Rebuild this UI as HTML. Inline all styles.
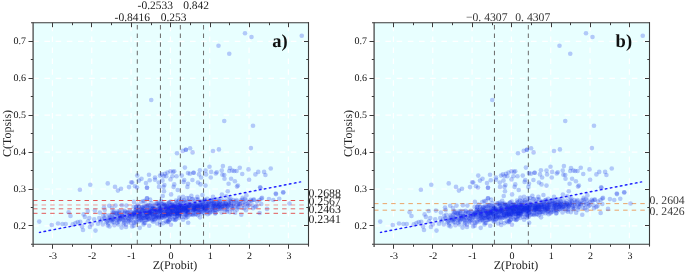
<!DOCTYPE html>
<html><head><meta charset="utf-8"><style>
html,body{margin:0;padding:0;background:#fff;}
svg{display:block;font-family:"Liberation Serif",serif;will-change:transform;text-rendering:geometricPrecision;}
</style></head><body>
<svg width="685" height="272" viewBox="0 0 685 272" xmlns="http://www.w3.org/2000/svg">
<defs><g id="ptsA" fill="rgba(10,40,230,0.25)"><circle cx="245.00" cy="33.25" r="2.3"/><circle cx="301.75" cy="35.75" r="2.3"/><circle cx="151.25" cy="100.00" r="2.3"/><circle cx="253.00" cy="125.75" r="2.3"/><circle cx="182.75" cy="150.90" r="2.3"/><circle cx="190.10" cy="148.30" r="2.3"/><circle cx="192.60" cy="152.40" r="2.3"/><circle cx="250.90" cy="148.10" r="2.3"/><circle cx="184.90" cy="167.60" r="2.3"/><circle cx="209.50" cy="166.70" r="2.3"/><circle cx="222.90" cy="166.10" r="2.3"/><circle cx="230.00" cy="168.00" r="2.3"/><circle cx="248.50" cy="169.40" r="2.3"/><circle cx="170.50" cy="179.40" r="2.3"/><circle cx="176.50" cy="176.25" r="2.3"/><circle cx="174.25" cy="184.40" r="2.3"/><circle cx="173.60" cy="186.90" r="2.3"/><circle cx="177.75" cy="190.00" r="2.3"/><circle cx="183.60" cy="181.90" r="2.3"/><circle cx="188.00" cy="173.10" r="2.3"/><circle cx="193.60" cy="172.75" r="2.3"/><circle cx="193.60" cy="172.75" r="2.3"/><circle cx="188.00" cy="183.75" r="2.3"/><circle cx="187.40" cy="186.90" r="2.3"/><circle cx="199.90" cy="170.25" r="2.3"/><circle cx="199.00" cy="174.40" r="2.3"/><circle cx="201.10" cy="177.50" r="2.3"/><circle cx="200.50" cy="184.40" r="2.3"/><circle cx="197.40" cy="196.90" r="2.3"/><circle cx="206.10" cy="174.40" r="2.3"/><circle cx="205.50" cy="185.60" r="2.3"/><circle cx="210.75" cy="177.50" r="2.3"/><circle cx="216.75" cy="172.25" r="2.3"/><circle cx="221.75" cy="170.60" r="2.3"/><circle cx="222.40" cy="174.75" r="2.3"/><circle cx="224.25" cy="175.00" r="2.3"/><circle cx="228.60" cy="183.75" r="2.3"/><circle cx="227.75" cy="191.25" r="2.3"/><circle cx="229.25" cy="171.00" r="2.3"/><circle cx="231.10" cy="178.75" r="2.3"/><circle cx="232.40" cy="170.60" r="2.3"/><circle cx="234.25" cy="171.00" r="2.3"/><circle cx="234.90" cy="181.25" r="2.3"/><circle cx="213.00" cy="196.90" r="2.3"/><circle cx="236.60" cy="171.00" r="2.3"/><circle cx="242.25" cy="174.00" r="2.3"/><circle cx="249.10" cy="179.75" r="2.3"/><circle cx="237.90" cy="185.60" r="2.3"/><circle cx="258.25" cy="171.90" r="2.3"/><circle cx="264.10" cy="171.90" r="2.3"/><circle cx="260.40" cy="187.75" r="2.3"/><circle cx="115.00" cy="186.90" r="2.3"/><circle cx="129.00" cy="187.10" r="2.3"/><circle cx="131.25" cy="182.25" r="2.3"/><circle cx="135.00" cy="186.25" r="2.3"/><circle cx="137.00" cy="187.50" r="2.3"/><circle cx="137.25" cy="175.60" r="2.3"/><circle cx="139.00" cy="180.60" r="2.3"/><circle cx="141.50" cy="178.75" r="2.3"/><circle cx="147.00" cy="187.75" r="2.3"/><circle cx="147.00" cy="187.75" r="2.3"/><circle cx="149.00" cy="174.75" r="2.3"/><circle cx="149.75" cy="180.25" r="2.3"/><circle cx="160.00" cy="175.60" r="2.3"/><circle cx="161.90" cy="174.40" r="2.3"/><circle cx="165.00" cy="173.75" r="2.3"/><circle cx="166.25" cy="176.25" r="2.3"/><circle cx="167.50" cy="172.50" r="2.3"/><circle cx="164.40" cy="185.00" r="2.3"/><circle cx="163.50" cy="186.90" r="2.3"/><circle cx="164.00" cy="191.25" r="2.3"/><circle cx="162.75" cy="196.00" r="2.3"/><circle cx="147.00" cy="198.30" r="2.3"/><circle cx="143.25" cy="201.00" r="2.3"/><circle cx="133.90" cy="201.90" r="2.3"/><circle cx="115.50" cy="205.60" r="2.3"/><circle cx="104.00" cy="207.50" r="2.3"/><circle cx="112.00" cy="208.00" r="2.3"/><circle cx="79.90" cy="189.75" r="2.3"/><circle cx="39.25" cy="221.60" r="2.3"/><circle cx="80.25" cy="221.90" r="2.3"/><circle cx="83.00" cy="230.00" r="2.3"/><circle cx="83.60" cy="214.40" r="2.3"/><circle cx="89.25" cy="218.10" r="2.3"/><circle cx="91.75" cy="224.40" r="2.3"/><circle cx="94.25" cy="219.40" r="2.3"/><circle cx="94.90" cy="210.60" r="2.3"/><circle cx="95.50" cy="230.60" r="2.3"/><circle cx="237.00" cy="186.60" r="2.3"/><circle cx="283.25" cy="192.50" r="2.3"/><circle cx="268.90" cy="199.10" r="2.3"/><circle cx="279.25" cy="198.75" r="2.3"/><circle cx="267.00" cy="208.90" r="2.3"/><circle cx="262.00" cy="197.90" r="2.3"/><circle cx="261.40" cy="198.50" r="2.3"/><circle cx="259.50" cy="200.00" r="2.3"/><circle cx="246.40" cy="195.40" r="2.3"/><circle cx="109.50" cy="226.40" r="2.3"/><circle cx="121.60" cy="227.60" r="2.3"/><circle cx="126.00" cy="227.00" r="2.3"/><circle cx="102.79" cy="224.56" r="2.3"/><circle cx="103.23" cy="215.78" r="2.3"/><circle cx="104.29" cy="218.10" r="2.3"/><circle cx="104.71" cy="210.06" r="2.3"/><circle cx="105.33" cy="219.36" r="2.3"/><circle cx="105.33" cy="214.83" r="2.3"/><circle cx="107.42" cy="221.29" r="2.3"/><circle cx="107.75" cy="225.55" r="2.3"/><circle cx="109.35" cy="215.19" r="2.3"/><circle cx="110.03" cy="220.22" r="2.3"/><circle cx="110.28" cy="216.48" r="2.3"/><circle cx="111.17" cy="219.05" r="2.3"/><circle cx="111.65" cy="220.54" r="2.3"/><circle cx="112.10" cy="214.80" r="2.3"/><circle cx="112.23" cy="222.25" r="2.3"/><circle cx="113.44" cy="218.51" r="2.3"/><circle cx="113.79" cy="222.34" r="2.3"/><circle cx="114.09" cy="211.34" r="2.3"/><circle cx="114.40" cy="225.27" r="2.3"/><circle cx="114.50" cy="215.33" r="2.3"/><circle cx="115.23" cy="218.49" r="2.3"/><circle cx="116.70" cy="220.35" r="2.3"/><circle cx="116.54" cy="214.54" r="2.3"/><circle cx="117.09" cy="213.37" r="2.3"/><circle cx="117.13" cy="222.84" r="2.3"/><circle cx="117.74" cy="211.55" r="2.3"/><circle cx="118.51" cy="216.03" r="2.3"/><circle cx="118.45" cy="224.49" r="2.3"/><circle cx="118.73" cy="221.58" r="2.3"/><circle cx="119.45" cy="214.64" r="2.3"/><circle cx="119.59" cy="210.99" r="2.3"/><circle cx="119.38" cy="212.85" r="2.3"/><circle cx="119.91" cy="217.38" r="2.3"/><circle cx="121.25" cy="219.13" r="2.3"/><circle cx="121.87" cy="205.24" r="2.3"/><circle cx="122.37" cy="214.86" r="2.3"/><circle cx="122.32" cy="211.28" r="2.3"/><circle cx="122.93" cy="216.27" r="2.3"/><circle cx="122.94" cy="219.81" r="2.3"/><circle cx="123.38" cy="224.16" r="2.3"/><circle cx="124.14" cy="213.67" r="2.3"/><circle cx="123.91" cy="222.81" r="2.3"/><circle cx="124.58" cy="210.80" r="2.3"/><circle cx="125.24" cy="217.93" r="2.3"/><circle cx="125.51" cy="220.09" r="2.3"/><circle cx="125.38" cy="211.80" r="2.3"/><circle cx="125.99" cy="224.63" r="2.3"/><circle cx="127.42" cy="220.75" r="2.3"/><circle cx="128.18" cy="222.11" r="2.3"/><circle cx="128.93" cy="215.89" r="2.3"/><circle cx="128.93" cy="218.28" r="2.3"/><circle cx="129.45" cy="220.51" r="2.3"/><circle cx="129.84" cy="215.03" r="2.3"/><circle cx="129.83" cy="210.79" r="2.3"/><circle cx="130.15" cy="216.31" r="2.3"/><circle cx="130.65" cy="219.05" r="2.3"/><circle cx="130.80" cy="223.01" r="2.3"/><circle cx="131.49" cy="211.68" r="2.3"/><circle cx="131.58" cy="220.10" r="2.3"/><circle cx="132.19" cy="215.34" r="2.3"/><circle cx="132.68" cy="215.13" r="2.3"/><circle cx="133.24" cy="213.85" r="2.3"/><circle cx="133.75" cy="225.78" r="2.3"/><circle cx="133.61" cy="206.92" r="2.3"/><circle cx="133.99" cy="214.67" r="2.3"/><circle cx="134.34" cy="218.72" r="2.3"/><circle cx="134.41" cy="212.45" r="2.3"/><circle cx="134.85" cy="216.66" r="2.3"/><circle cx="135.02" cy="214.50" r="2.3"/><circle cx="135.88" cy="207.23" r="2.3"/><circle cx="136.02" cy="209.63" r="2.3"/><circle cx="136.12" cy="221.76" r="2.3"/><circle cx="136.18" cy="211.77" r="2.3"/><circle cx="136.28" cy="209.81" r="2.3"/><circle cx="136.40" cy="206.90" r="2.3"/><circle cx="136.93" cy="216.68" r="2.3"/><circle cx="137.03" cy="212.91" r="2.3"/><circle cx="137.10" cy="214.70" r="2.3"/><circle cx="137.50" cy="211.10" r="2.3"/><circle cx="137.58" cy="219.55" r="2.3"/><circle cx="137.45" cy="204.49" r="2.3"/><circle cx="138.21" cy="216.35" r="2.3"/><circle cx="138.39" cy="219.61" r="2.3"/><circle cx="138.75" cy="212.34" r="2.3"/><circle cx="138.78" cy="213.20" r="2.3"/><circle cx="138.71" cy="221.42" r="2.3"/><circle cx="138.86" cy="207.00" r="2.3"/><circle cx="139.48" cy="215.55" r="2.3"/><circle cx="139.70" cy="227.86" r="2.3"/><circle cx="140.59" cy="213.88" r="2.3"/><circle cx="140.23" cy="214.09" r="2.3"/><circle cx="140.60" cy="208.99" r="2.3"/><circle cx="140.79" cy="219.84" r="2.3"/><circle cx="141.23" cy="202.07" r="2.3"/><circle cx="141.48" cy="216.56" r="2.3"/><circle cx="141.62" cy="214.42" r="2.3"/><circle cx="142.12" cy="219.82" r="2.3"/><circle cx="141.98" cy="207.65" r="2.3"/><circle cx="142.13" cy="210.36" r="2.3"/><circle cx="142.51" cy="212.70" r="2.3"/><circle cx="142.49" cy="221.23" r="2.3"/><circle cx="142.66" cy="206.96" r="2.3"/><circle cx="143.36" cy="217.68" r="2.3"/><circle cx="143.99" cy="222.98" r="2.3"/><circle cx="144.48" cy="207.67" r="2.3"/><circle cx="144.32" cy="205.64" r="2.3"/><circle cx="145.15" cy="222.88" r="2.3"/><circle cx="144.77" cy="201.25" r="2.3"/><circle cx="145.32" cy="212.07" r="2.3"/><circle cx="145.56" cy="215.16" r="2.3"/><circle cx="145.59" cy="213.10" r="2.3"/><circle cx="146.33" cy="213.32" r="2.3"/><circle cx="146.74" cy="214.25" r="2.3"/><circle cx="146.98" cy="219.96" r="2.3"/><circle cx="146.94" cy="212.72" r="2.3"/><circle cx="147.61" cy="213.90" r="2.3"/><circle cx="147.61" cy="216.43" r="2.3"/><circle cx="147.66" cy="217.16" r="2.3"/><circle cx="147.92" cy="208.91" r="2.3"/><circle cx="148.47" cy="212.77" r="2.3"/><circle cx="148.37" cy="204.85" r="2.3"/><circle cx="148.98" cy="210.09" r="2.3"/><circle cx="149.19" cy="225.82" r="2.3"/><circle cx="149.40" cy="211.52" r="2.3"/><circle cx="149.30" cy="219.10" r="2.3"/><circle cx="149.88" cy="216.29" r="2.3"/><circle cx="150.09" cy="199.66" r="2.3"/><circle cx="150.15" cy="210.62" r="2.3"/><circle cx="150.46" cy="211.84" r="2.3"/><circle cx="151.90" cy="220.44" r="2.3"/><circle cx="152.17" cy="208.76" r="2.3"/><circle cx="152.95" cy="216.65" r="2.3"/><circle cx="152.83" cy="208.96" r="2.3"/><circle cx="153.26" cy="221.81" r="2.3"/><circle cx="153.20" cy="214.49" r="2.3"/><circle cx="154.09" cy="209.62" r="2.3"/><circle cx="154.15" cy="213.17" r="2.3"/><circle cx="154.07" cy="208.01" r="2.3"/><circle cx="154.27" cy="220.27" r="2.3"/><circle cx="154.32" cy="216.80" r="2.3"/><circle cx="154.69" cy="209.50" r="2.3"/><circle cx="154.59" cy="205.32" r="2.3"/><circle cx="154.77" cy="219.29" r="2.3"/><circle cx="155.53" cy="215.39" r="2.3"/><circle cx="155.49" cy="209.29" r="2.3"/><circle cx="155.22" cy="208.61" r="2.3"/><circle cx="155.76" cy="211.88" r="2.3"/><circle cx="156.37" cy="218.87" r="2.3"/><circle cx="157.17" cy="203.42" r="2.3"/><circle cx="157.17" cy="223.45" r="2.3"/><circle cx="157.32" cy="216.59" r="2.3"/><circle cx="157.85" cy="211.72" r="2.3"/><circle cx="158.62" cy="202.67" r="2.3"/><circle cx="158.77" cy="216.88" r="2.3"/><circle cx="158.77" cy="204.28" r="2.3"/><circle cx="158.79" cy="211.92" r="2.3"/><circle cx="159.46" cy="211.06" r="2.3"/><circle cx="159.12" cy="209.46" r="2.3"/><circle cx="160.07" cy="207.86" r="2.3"/><circle cx="159.99" cy="221.92" r="2.3"/><circle cx="160.34" cy="214.29" r="2.3"/><circle cx="160.20" cy="211.32" r="2.3"/><circle cx="160.54" cy="212.47" r="2.3"/><circle cx="161.17" cy="218.06" r="2.3"/><circle cx="161.52" cy="210.89" r="2.3"/><circle cx="161.53" cy="209.36" r="2.3"/><circle cx="161.43" cy="203.46" r="2.3"/><circle cx="161.58" cy="212.90" r="2.3"/><circle cx="162.16" cy="211.81" r="2.3"/><circle cx="162.23" cy="217.50" r="2.3"/><circle cx="162.69" cy="204.24" r="2.3"/><circle cx="163.21" cy="217.57" r="2.3"/><circle cx="163.32" cy="214.79" r="2.3"/><circle cx="163.23" cy="213.05" r="2.3"/><circle cx="163.33" cy="203.67" r="2.3"/><circle cx="163.40" cy="214.60" r="2.3"/><circle cx="163.44" cy="223.09" r="2.3"/><circle cx="164.21" cy="205.01" r="2.3"/><circle cx="164.81" cy="204.75" r="2.3"/><circle cx="164.38" cy="211.05" r="2.3"/><circle cx="164.95" cy="209.01" r="2.3"/><circle cx="164.84" cy="211.91" r="2.3"/><circle cx="164.90" cy="216.24" r="2.3"/><circle cx="165.30" cy="213.75" r="2.3"/><circle cx="165.21" cy="206.60" r="2.3"/><circle cx="165.53" cy="208.37" r="2.3"/><circle cx="165.68" cy="214.30" r="2.3"/><circle cx="166.23" cy="212.46" r="2.3"/><circle cx="166.27" cy="204.90" r="2.3"/><circle cx="166.12" cy="208.48" r="2.3"/><circle cx="166.73" cy="210.12" r="2.3"/><circle cx="166.70" cy="212.91" r="2.3"/><circle cx="166.98" cy="222.17" r="2.3"/><circle cx="167.15" cy="206.32" r="2.3"/><circle cx="167.09" cy="212.19" r="2.3"/><circle cx="167.52" cy="207.79" r="2.3"/><circle cx="167.66" cy="213.68" r="2.3"/><circle cx="167.33" cy="217.67" r="2.3"/><circle cx="167.85" cy="213.96" r="2.3"/><circle cx="167.86" cy="209.52" r="2.3"/><circle cx="168.39" cy="221.42" r="2.3"/><circle cx="168.65" cy="215.80" r="2.3"/><circle cx="168.74" cy="210.85" r="2.3"/><circle cx="168.90" cy="206.93" r="2.3"/><circle cx="168.98" cy="202.84" r="2.3"/><circle cx="169.34" cy="202.20" r="2.3"/><circle cx="169.02" cy="209.13" r="2.3"/><circle cx="169.58" cy="219.63" r="2.3"/><circle cx="169.40" cy="216.68" r="2.3"/><circle cx="169.47" cy="207.43" r="2.3"/><circle cx="170.35" cy="214.77" r="2.3"/><circle cx="170.07" cy="210.08" r="2.3"/><circle cx="171.14" cy="210.44" r="2.3"/><circle cx="170.78" cy="201.49" r="2.3"/><circle cx="171.05" cy="207.59" r="2.3"/><circle cx="171.55" cy="205.14" r="2.3"/><circle cx="171.46" cy="214.35" r="2.3"/><circle cx="171.56" cy="212.73" r="2.3"/><circle cx="171.76" cy="204.55" r="2.3"/><circle cx="172.01" cy="216.63" r="2.3"/><circle cx="171.83" cy="208.71" r="2.3"/><circle cx="172.42" cy="207.04" r="2.3"/><circle cx="172.13" cy="207.67" r="2.3"/><circle cx="172.56" cy="205.03" r="2.3"/><circle cx="172.94" cy="211.82" r="2.3"/><circle cx="172.96" cy="219.00" r="2.3"/><circle cx="173.55" cy="205.99" r="2.3"/><circle cx="174.03" cy="207.49" r="2.3"/><circle cx="173.71" cy="207.61" r="2.3"/><circle cx="174.11" cy="211.63" r="2.3"/><circle cx="174.41" cy="219.74" r="2.3"/><circle cx="174.82" cy="213.85" r="2.3"/><circle cx="174.88" cy="213.69" r="2.3"/><circle cx="174.87" cy="203.88" r="2.3"/><circle cx="175.38" cy="206.13" r="2.3"/><circle cx="175.31" cy="214.76" r="2.3"/><circle cx="175.42" cy="219.96" r="2.3"/><circle cx="176.38" cy="206.64" r="2.3"/><circle cx="176.55" cy="202.66" r="2.3"/><circle cx="176.28" cy="219.12" r="2.3"/><circle cx="176.88" cy="210.09" r="2.3"/><circle cx="176.98" cy="213.05" r="2.3"/><circle cx="176.64" cy="215.85" r="2.3"/><circle cx="177.22" cy="207.41" r="2.3"/><circle cx="177.04" cy="212.74" r="2.3"/><circle cx="177.04" cy="216.64" r="2.3"/><circle cx="177.50" cy="201.68" r="2.3"/><circle cx="177.71" cy="204.87" r="2.3"/><circle cx="177.43" cy="213.71" r="2.3"/><circle cx="178.28" cy="206.90" r="2.3"/><circle cx="178.44" cy="205.23" r="2.3"/><circle cx="178.68" cy="210.77" r="2.3"/><circle cx="179.01" cy="213.14" r="2.3"/><circle cx="179.08" cy="200.58" r="2.3"/><circle cx="179.21" cy="217.88" r="2.3"/><circle cx="179.50" cy="214.58" r="2.3"/><circle cx="179.51" cy="204.88" r="2.3"/><circle cx="179.70" cy="213.11" r="2.3"/><circle cx="179.36" cy="197.63" r="2.3"/><circle cx="179.51" cy="209.08" r="2.3"/><circle cx="180.19" cy="204.36" r="2.3"/><circle cx="180.17" cy="211.26" r="2.3"/><circle cx="180.25" cy="213.77" r="2.3"/><circle cx="180.18" cy="205.27" r="2.3"/><circle cx="180.17" cy="210.64" r="2.3"/><circle cx="181.00" cy="211.79" r="2.3"/><circle cx="181.26" cy="214.16" r="2.3"/><circle cx="181.31" cy="206.80" r="2.3"/><circle cx="182.01" cy="210.66" r="2.3"/><circle cx="182.13" cy="206.56" r="2.3"/><circle cx="182.49" cy="212.04" r="2.3"/><circle cx="182.60" cy="206.18" r="2.3"/><circle cx="183.52" cy="201.34" r="2.3"/><circle cx="183.27" cy="209.64" r="2.3"/><circle cx="183.72" cy="207.45" r="2.3"/><circle cx="183.88" cy="205.47" r="2.3"/><circle cx="183.87" cy="200.14" r="2.3"/><circle cx="185.04" cy="211.07" r="2.3"/><circle cx="185.33" cy="208.71" r="2.3"/><circle cx="185.46" cy="205.80" r="2.3"/><circle cx="185.82" cy="212.50" r="2.3"/><circle cx="185.96" cy="210.62" r="2.3"/><circle cx="185.55" cy="214.64" r="2.3"/><circle cx="185.94" cy="206.98" r="2.3"/><circle cx="186.34" cy="215.13" r="2.3"/><circle cx="186.62" cy="210.43" r="2.3"/><circle cx="186.77" cy="207.68" r="2.3"/><circle cx="186.63" cy="205.51" r="2.3"/><circle cx="187.57" cy="207.22" r="2.3"/><circle cx="187.68" cy="216.79" r="2.3"/><circle cx="187.81" cy="209.12" r="2.3"/><circle cx="187.66" cy="209.99" r="2.3"/><circle cx="187.63" cy="205.47" r="2.3"/><circle cx="188.29" cy="209.43" r="2.3"/><circle cx="188.30" cy="212.30" r="2.3"/><circle cx="188.13" cy="212.78" r="2.3"/><circle cx="188.42" cy="204.80" r="2.3"/><circle cx="188.74" cy="208.64" r="2.3"/><circle cx="188.61" cy="212.49" r="2.3"/><circle cx="189.08" cy="206.47" r="2.3"/><circle cx="189.09" cy="198.09" r="2.3"/><circle cx="189.09" cy="205.60" r="2.3"/><circle cx="190.39" cy="203.00" r="2.3"/><circle cx="190.40" cy="205.89" r="2.3"/><circle cx="190.78" cy="213.90" r="2.3"/><circle cx="190.60" cy="207.92" r="2.3"/><circle cx="191.08" cy="209.70" r="2.3"/><circle cx="191.36" cy="195.82" r="2.3"/><circle cx="191.66" cy="205.06" r="2.3"/><circle cx="191.81" cy="214.55" r="2.3"/><circle cx="192.06" cy="206.37" r="2.3"/><circle cx="192.39" cy="205.95" r="2.3"/><circle cx="192.85" cy="199.00" r="2.3"/><circle cx="193.60" cy="207.75" r="2.3"/><circle cx="193.68" cy="202.98" r="2.3"/><circle cx="194.18" cy="209.35" r="2.3"/><circle cx="194.16" cy="205.17" r="2.3"/><circle cx="194.23" cy="208.47" r="2.3"/><circle cx="194.28" cy="208.87" r="2.3"/><circle cx="195.45" cy="206.54" r="2.3"/><circle cx="195.02" cy="202.04" r="2.3"/><circle cx="195.38" cy="208.14" r="2.3"/><circle cx="195.58" cy="204.99" r="2.3"/><circle cx="195.41" cy="210.07" r="2.3"/><circle cx="196.23" cy="214.35" r="2.3"/><circle cx="196.49" cy="199.37" r="2.3"/><circle cx="196.58" cy="206.80" r="2.3"/><circle cx="197.26" cy="208.72" r="2.3"/><circle cx="197.52" cy="212.05" r="2.3"/><circle cx="197.82" cy="215.09" r="2.3"/><circle cx="197.46" cy="206.91" r="2.3"/><circle cx="198.51" cy="208.41" r="2.3"/><circle cx="198.32" cy="207.87" r="2.3"/><circle cx="198.51" cy="205.50" r="2.3"/><circle cx="198.84" cy="212.90" r="2.3"/><circle cx="199.14" cy="207.04" r="2.3"/><circle cx="199.97" cy="205.11" r="2.3"/><circle cx="200.04" cy="217.36" r="2.3"/><circle cx="200.57" cy="212.07" r="2.3"/><circle cx="201.07" cy="204.98" r="2.3"/><circle cx="200.91" cy="208.02" r="2.3"/><circle cx="201.87" cy="211.82" r="2.3"/><circle cx="202.06" cy="201.90" r="2.3"/><circle cx="202.12" cy="206.97" r="2.3"/><circle cx="202.82" cy="203.98" r="2.3"/><circle cx="203.35" cy="208.72" r="2.3"/><circle cx="204.08" cy="209.68" r="2.3"/><circle cx="203.85" cy="204.20" r="2.3"/><circle cx="204.07" cy="208.44" r="2.3"/><circle cx="204.18" cy="200.37" r="2.3"/><circle cx="204.47" cy="213.18" r="2.3"/><circle cx="204.80" cy="210.67" r="2.3"/><circle cx="205.35" cy="204.16" r="2.3"/><circle cx="205.76" cy="206.38" r="2.3"/><circle cx="206.04" cy="208.37" r="2.3"/><circle cx="206.17" cy="212.28" r="2.3"/><circle cx="206.07" cy="201.48" r="2.3"/><circle cx="207.45" cy="207.67" r="2.3"/><circle cx="207.61" cy="214.25" r="2.3"/><circle cx="207.76" cy="206.60" r="2.3"/><circle cx="208.26" cy="204.66" r="2.3"/><circle cx="208.10" cy="201.92" r="2.3"/><circle cx="208.37" cy="209.58" r="2.3"/><circle cx="208.58" cy="206.44" r="2.3"/><circle cx="209.39" cy="213.37" r="2.3"/><circle cx="209.06" cy="202.43" r="2.3"/><circle cx="209.72" cy="207.69" r="2.3"/><circle cx="209.72" cy="210.17" r="2.3"/><circle cx="210.50" cy="200.93" r="2.3"/><circle cx="211.26" cy="200.08" r="2.3"/><circle cx="211.35" cy="211.85" r="2.3"/><circle cx="211.81" cy="203.60" r="2.3"/><circle cx="212.53" cy="210.07" r="2.3"/><circle cx="213.12" cy="211.02" r="2.3"/><circle cx="213.23" cy="207.01" r="2.3"/><circle cx="213.89" cy="203.67" r="2.3"/><circle cx="213.91" cy="207.97" r="2.3"/><circle cx="214.18" cy="199.86" r="2.3"/><circle cx="215.35" cy="210.20" r="2.3"/><circle cx="215.31" cy="207.71" r="2.3"/><circle cx="215.74" cy="201.70" r="2.3"/><circle cx="215.54" cy="213.01" r="2.3"/><circle cx="216.81" cy="199.39" r="2.3"/><circle cx="216.47" cy="204.27" r="2.3"/><circle cx="216.95" cy="210.52" r="2.3"/><circle cx="217.41" cy="202.59" r="2.3"/><circle cx="217.58" cy="205.31" r="2.3"/><circle cx="218.14" cy="209.20" r="2.3"/><circle cx="218.19" cy="206.80" r="2.3"/><circle cx="218.80" cy="200.64" r="2.3"/><circle cx="218.91" cy="209.20" r="2.3"/><circle cx="219.05" cy="205.17" r="2.3"/><circle cx="219.26" cy="203.70" r="2.3"/><circle cx="219.68" cy="202.50" r="2.3"/><circle cx="220.15" cy="201.53" r="2.3"/><circle cx="220.57" cy="208.41" r="2.3"/><circle cx="221.25" cy="198.43" r="2.3"/><circle cx="222.48" cy="206.38" r="2.3"/><circle cx="222.49" cy="206.99" r="2.3"/><circle cx="223.18" cy="202.12" r="2.3"/><circle cx="223.40" cy="208.95" r="2.3"/><circle cx="224.82" cy="206.50" r="2.3"/><circle cx="225.23" cy="210.39" r="2.3"/><circle cx="225.24" cy="200.75" r="2.3"/><circle cx="226.18" cy="196.29" r="2.3"/><circle cx="226.44" cy="203.97" r="2.3"/><circle cx="226.74" cy="211.77" r="2.3"/><circle cx="226.59" cy="205.37" r="2.3"/><circle cx="227.23" cy="206.33" r="2.3"/><circle cx="227.17" cy="209.48" r="2.3"/><circle cx="227.86" cy="206.60" r="2.3"/><circle cx="228.72" cy="202.20" r="2.3"/><circle cx="228.75" cy="205.30" r="2.3"/><circle cx="229.00" cy="199.49" r="2.3"/><circle cx="230.93" cy="204.68" r="2.3"/><circle cx="231.37" cy="202.63" r="2.3"/><circle cx="232.21" cy="209.38" r="2.3"/><circle cx="232.11" cy="207.70" r="2.3"/><circle cx="233.23" cy="208.56" r="2.3"/><circle cx="233.70" cy="205.86" r="2.3"/><circle cx="234.09" cy="203.90" r="2.3"/><circle cx="234.49" cy="201.82" r="2.3"/><circle cx="236.07" cy="201.28" r="2.3"/><circle cx="236.24" cy="205.35" r="2.3"/><circle cx="236.58" cy="200.07" r="2.3"/><circle cx="237.02" cy="209.60" r="2.3"/><circle cx="239.72" cy="204.54" r="2.3"/><circle cx="239.74" cy="203.98" r="2.3"/><circle cx="240.59" cy="200.65" r="2.3"/><circle cx="241.28" cy="214.71" r="2.3"/><circle cx="242.09" cy="208.00" r="2.3"/><circle cx="242.27" cy="199.90" r="2.3"/><circle cx="243.33" cy="204.76" r="2.3"/><circle cx="244.00" cy="208.14" r="2.3"/><circle cx="245.23" cy="203.84" r="2.3"/><circle cx="245.93" cy="210.17" r="2.3"/><circle cx="247.36" cy="206.31" r="2.3"/><circle cx="250.77" cy="199.89" r="2.3"/><circle cx="251.54" cy="200.97" r="2.3"/><circle cx="255.35" cy="206.92" r="2.3"/><circle cx="261.29" cy="203.99" r="2.3"/></g><g id="ptsB" fill="rgba(10,40,230,0.25)"><circle cx="218.50" cy="45.75" r="2.3"/><circle cx="229.25" cy="53.75" r="2.3"/><circle cx="251.50" cy="37.00" r="2.3"/><circle cx="224.25" cy="121.00" r="2.3"/><circle cx="177.00" cy="153.20" r="2.3"/><circle cx="185.90" cy="149.75" r="2.3"/><circle cx="185.90" cy="149.75" r="2.3"/><circle cx="213.00" cy="151.00" r="2.3"/><circle cx="218.90" cy="149.40" r="2.3"/><circle cx="239.75" cy="167.75" r="2.3"/><circle cx="270.75" cy="168.50" r="2.3"/><circle cx="170.50" cy="171.25" r="2.3"/><circle cx="173.00" cy="171.90" r="2.3"/><circle cx="174.25" cy="171.25" r="2.3"/><circle cx="172.40" cy="176.25" r="2.3"/><circle cx="171.10" cy="194.40" r="2.3"/><circle cx="181.75" cy="175.60" r="2.3"/><circle cx="184.25" cy="180.00" r="2.3"/><circle cx="189.90" cy="173.75" r="2.3"/><circle cx="192.40" cy="180.00" r="2.3"/><circle cx="198.00" cy="182.50" r="2.3"/><circle cx="202.40" cy="195.00" r="2.3"/><circle cx="205.50" cy="170.60" r="2.3"/><circle cx="211.10" cy="171.90" r="2.3"/><circle cx="215.75" cy="173.50" r="2.3"/><circle cx="224.50" cy="178.75" r="2.3"/><circle cx="183.00" cy="196.90" r="2.3"/><circle cx="255.40" cy="174.40" r="2.3"/><circle cx="265.40" cy="175.00" r="2.3"/><circle cx="275.75" cy="193.50" r="2.3"/><circle cx="283.25" cy="192.25" r="2.3"/><circle cx="107.75" cy="183.40" r="2.3"/><circle cx="117.90" cy="190.60" r="2.3"/><circle cx="121.00" cy="188.75" r="2.3"/><circle cx="132.25" cy="182.50" r="2.3"/><circle cx="146.00" cy="183.10" r="2.3"/><circle cx="155.00" cy="177.50" r="2.3"/><circle cx="155.00" cy="179.75" r="2.3"/><circle cx="158.75" cy="182.50" r="2.3"/><circle cx="159.00" cy="186.90" r="2.3"/><circle cx="162.50" cy="180.60" r="2.3"/><circle cx="163.75" cy="176.25" r="2.3"/><circle cx="147.00" cy="198.30" r="2.3"/><circle cx="90.25" cy="184.75" r="2.3"/><circle cx="51.75" cy="225.00" r="2.3"/><circle cx="58.00" cy="223.50" r="2.3"/><circle cx="62.40" cy="224.00" r="2.3"/><circle cx="65.75" cy="224.00" r="2.3"/><circle cx="68.60" cy="212.25" r="2.3"/><circle cx="70.50" cy="216.00" r="2.3"/><circle cx="72.75" cy="224.40" r="2.3"/><circle cx="75.50" cy="223.10" r="2.3"/><circle cx="77.75" cy="222.10" r="2.3"/><circle cx="82.00" cy="226.50" r="2.3"/><circle cx="84.90" cy="216.90" r="2.3"/><circle cx="87.75" cy="211.00" r="2.3"/><circle cx="88.00" cy="221.25" r="2.3"/><circle cx="89.90" cy="226.90" r="2.3"/><circle cx="98.00" cy="223.75" r="2.3"/><circle cx="99.25" cy="218.10" r="2.3"/><circle cx="99.90" cy="212.50" r="2.3"/><circle cx="100.50" cy="221.25" r="2.3"/><circle cx="260.10" cy="187.25" r="2.3"/><circle cx="276.00" cy="194.10" r="2.3"/><circle cx="273.25" cy="200.00" r="2.3"/><circle cx="289.50" cy="203.50" r="2.3"/><circle cx="253.25" cy="199.75" r="2.3"/><circle cx="242.60" cy="197.90" r="2.3"/><circle cx="143.50" cy="224.50" r="2.3"/><circle cx="101.97" cy="219.44" r="2.3"/><circle cx="106.41" cy="222.22" r="2.3"/><circle cx="107.99" cy="223.30" r="2.3"/><circle cx="108.58" cy="219.22" r="2.3"/><circle cx="108.74" cy="217.81" r="2.3"/><circle cx="109.21" cy="205.68" r="2.3"/><circle cx="112.56" cy="211.85" r="2.3"/><circle cx="112.54" cy="217.84" r="2.3"/><circle cx="113.23" cy="219.62" r="2.3"/><circle cx="113.44" cy="213.10" r="2.3"/><circle cx="115.77" cy="213.24" r="2.3"/><circle cx="117.85" cy="218.47" r="2.3"/><circle cx="118.77" cy="220.00" r="2.3"/><circle cx="120.11" cy="215.97" r="2.3"/><circle cx="120.10" cy="219.11" r="2.3"/><circle cx="121.37" cy="217.47" r="2.3"/><circle cx="122.23" cy="215.93" r="2.3"/><circle cx="123.78" cy="216.59" r="2.3"/><circle cx="123.66" cy="220.49" r="2.3"/><circle cx="126.37" cy="205.62" r="2.3"/><circle cx="126.93" cy="213.13" r="2.3"/><circle cx="126.84" cy="216.37" r="2.3"/><circle cx="127.45" cy="212.18" r="2.3"/><circle cx="127.67" cy="217.83" r="2.3"/><circle cx="128.52" cy="212.57" r="2.3"/><circle cx="132.00" cy="214.13" r="2.3"/><circle cx="132.19" cy="226.55" r="2.3"/><circle cx="132.44" cy="216.95" r="2.3"/><circle cx="133.17" cy="212.94" r="2.3"/><circle cx="133.89" cy="222.53" r="2.3"/><circle cx="134.18" cy="213.59" r="2.3"/><circle cx="135.06" cy="210.75" r="2.3"/><circle cx="134.84" cy="223.03" r="2.3"/><circle cx="138.64" cy="210.38" r="2.3"/><circle cx="139.50" cy="206.87" r="2.3"/><circle cx="139.40" cy="217.78" r="2.3"/><circle cx="139.93" cy="213.19" r="2.3"/><circle cx="139.86" cy="210.94" r="2.3"/><circle cx="139.94" cy="215.89" r="2.3"/><circle cx="141.09" cy="217.35" r="2.3"/><circle cx="141.48" cy="211.68" r="2.3"/><circle cx="141.92" cy="218.38" r="2.3"/><circle cx="142.56" cy="210.16" r="2.3"/><circle cx="143.28" cy="208.44" r="2.3"/><circle cx="143.89" cy="211.00" r="2.3"/><circle cx="143.53" cy="218.24" r="2.3"/><circle cx="143.96" cy="215.63" r="2.3"/><circle cx="144.64" cy="211.35" r="2.3"/><circle cx="144.71" cy="215.48" r="2.3"/><circle cx="145.37" cy="216.89" r="2.3"/><circle cx="145.52" cy="211.11" r="2.3"/><circle cx="145.64" cy="217.92" r="2.3"/><circle cx="146.02" cy="220.07" r="2.3"/><circle cx="146.46" cy="205.92" r="2.3"/><circle cx="146.57" cy="207.28" r="2.3"/><circle cx="146.91" cy="216.16" r="2.3"/><circle cx="147.12" cy="211.15" r="2.3"/><circle cx="148.05" cy="205.47" r="2.3"/><circle cx="148.18" cy="219.50" r="2.3"/><circle cx="148.64" cy="218.21" r="2.3"/><circle cx="148.90" cy="213.32" r="2.3"/><circle cx="149.54" cy="214.64" r="2.3"/><circle cx="149.67" cy="212.85" r="2.3"/><circle cx="150.28" cy="212.92" r="2.3"/><circle cx="150.35" cy="208.09" r="2.3"/><circle cx="150.36" cy="205.64" r="2.3"/><circle cx="150.95" cy="214.36" r="2.3"/><circle cx="151.18" cy="218.28" r="2.3"/><circle cx="151.08" cy="211.39" r="2.3"/><circle cx="151.48" cy="202.96" r="2.3"/><circle cx="151.71" cy="214.05" r="2.3"/><circle cx="151.61" cy="207.34" r="2.3"/><circle cx="152.06" cy="210.95" r="2.3"/><circle cx="152.06" cy="213.01" r="2.3"/><circle cx="152.41" cy="214.56" r="2.3"/><circle cx="152.61" cy="217.57" r="2.3"/><circle cx="152.65" cy="219.19" r="2.3"/><circle cx="152.42" cy="206.09" r="2.3"/><circle cx="153.01" cy="208.21" r="2.3"/><circle cx="153.85" cy="210.95" r="2.3"/><circle cx="155.31" cy="212.09" r="2.3"/><circle cx="155.44" cy="215.54" r="2.3"/><circle cx="155.69" cy="212.86" r="2.3"/><circle cx="155.91" cy="203.46" r="2.3"/><circle cx="156.33" cy="217.08" r="2.3"/><circle cx="156.90" cy="210.30" r="2.3"/><circle cx="157.07" cy="211.01" r="2.3"/><circle cx="156.84" cy="215.10" r="2.3"/><circle cx="157.53" cy="215.46" r="2.3"/><circle cx="157.26" cy="212.30" r="2.3"/><circle cx="157.81" cy="209.40" r="2.3"/><circle cx="157.77" cy="218.25" r="2.3"/><circle cx="158.62" cy="206.05" r="2.3"/><circle cx="158.87" cy="206.08" r="2.3"/><circle cx="159.24" cy="218.03" r="2.3"/><circle cx="159.35" cy="204.94" r="2.3"/><circle cx="159.99" cy="208.82" r="2.3"/><circle cx="160.23" cy="224.94" r="2.3"/><circle cx="160.61" cy="216.50" r="2.3"/><circle cx="160.47" cy="214.65" r="2.3"/><circle cx="160.99" cy="208.12" r="2.3"/><circle cx="160.95" cy="210.12" r="2.3"/><circle cx="161.20" cy="200.83" r="2.3"/><circle cx="161.08" cy="207.70" r="2.3"/><circle cx="162.50" cy="209.53" r="2.3"/><circle cx="162.88" cy="215.26" r="2.3"/><circle cx="163.28" cy="205.74" r="2.3"/><circle cx="164.36" cy="216.33" r="2.3"/><circle cx="165.48" cy="216.48" r="2.3"/><circle cx="165.83" cy="221.16" r="2.3"/><circle cx="165.94" cy="210.33" r="2.3"/><circle cx="166.46" cy="214.85" r="2.3"/><circle cx="167.25" cy="203.89" r="2.3"/><circle cx="167.40" cy="208.49" r="2.3"/><circle cx="167.89" cy="206.40" r="2.3"/><circle cx="168.20" cy="214.67" r="2.3"/><circle cx="168.31" cy="221.43" r="2.3"/><circle cx="168.46" cy="213.72" r="2.3"/><circle cx="169.80" cy="213.91" r="2.3"/><circle cx="169.81" cy="209.91" r="2.3"/><circle cx="169.89" cy="219.48" r="2.3"/><circle cx="170.14" cy="205.04" r="2.3"/><circle cx="170.67" cy="213.13" r="2.3"/><circle cx="170.61" cy="208.40" r="2.3"/><circle cx="170.68" cy="211.79" r="2.3"/><circle cx="170.94" cy="224.77" r="2.3"/><circle cx="171.46" cy="214.71" r="2.3"/><circle cx="171.77" cy="211.47" r="2.3"/><circle cx="172.30" cy="210.57" r="2.3"/><circle cx="172.98" cy="213.55" r="2.3"/><circle cx="173.07" cy="209.57" r="2.3"/><circle cx="173.43" cy="204.55" r="2.3"/><circle cx="173.48" cy="211.34" r="2.3"/><circle cx="173.96" cy="206.85" r="2.3"/><circle cx="174.74" cy="217.36" r="2.3"/><circle cx="175.05" cy="209.21" r="2.3"/><circle cx="175.34" cy="210.70" r="2.3"/><circle cx="175.42" cy="209.07" r="2.3"/><circle cx="175.90" cy="210.97" r="2.3"/><circle cx="175.98" cy="213.54" r="2.3"/><circle cx="176.03" cy="200.43" r="2.3"/><circle cx="176.18" cy="206.99" r="2.3"/><circle cx="176.39" cy="208.36" r="2.3"/><circle cx="176.69" cy="211.82" r="2.3"/><circle cx="177.77" cy="208.73" r="2.3"/><circle cx="177.93" cy="216.06" r="2.3"/><circle cx="178.04" cy="213.11" r="2.3"/><circle cx="178.29" cy="210.88" r="2.3"/><circle cx="178.36" cy="214.32" r="2.3"/><circle cx="178.52" cy="207.58" r="2.3"/><circle cx="178.67" cy="208.75" r="2.3"/><circle cx="180.26" cy="207.48" r="2.3"/><circle cx="180.83" cy="209.79" r="2.3"/><circle cx="180.63" cy="207.52" r="2.3"/><circle cx="181.15" cy="202.91" r="2.3"/><circle cx="181.32" cy="200.98" r="2.3"/><circle cx="181.24" cy="204.93" r="2.3"/><circle cx="181.89" cy="216.84" r="2.3"/><circle cx="181.87" cy="208.34" r="2.3"/><circle cx="182.38" cy="210.40" r="2.3"/><circle cx="182.79" cy="209.93" r="2.3"/><circle cx="183.10" cy="219.78" r="2.3"/><circle cx="183.30" cy="208.02" r="2.3"/><circle cx="183.70" cy="208.14" r="2.3"/><circle cx="184.00" cy="209.99" r="2.3"/><circle cx="184.32" cy="216.79" r="2.3"/><circle cx="184.19" cy="208.48" r="2.3"/><circle cx="185.02" cy="213.67" r="2.3"/><circle cx="184.86" cy="202.29" r="2.3"/><circle cx="185.06" cy="206.75" r="2.3"/><circle cx="186.24" cy="217.63" r="2.3"/><circle cx="186.12" cy="208.10" r="2.3"/><circle cx="186.43" cy="211.10" r="2.3"/><circle cx="186.48" cy="202.29" r="2.3"/><circle cx="187.28" cy="210.97" r="2.3"/><circle cx="186.84" cy="198.11" r="2.3"/><circle cx="187.29" cy="213.58" r="2.3"/><circle cx="187.58" cy="207.31" r="2.3"/><circle cx="188.17" cy="222.75" r="2.3"/><circle cx="188.34" cy="201.00" r="2.3"/><circle cx="189.66" cy="215.01" r="2.3"/><circle cx="189.61" cy="204.63" r="2.3"/><circle cx="189.90" cy="210.29" r="2.3"/><circle cx="191.96" cy="199.32" r="2.3"/><circle cx="192.49" cy="209.89" r="2.3"/><circle cx="193.16" cy="210.21" r="2.3"/><circle cx="193.18" cy="213.44" r="2.3"/><circle cx="193.56" cy="210.48" r="2.3"/><circle cx="193.48" cy="215.06" r="2.3"/><circle cx="193.74" cy="205.54" r="2.3"/><circle cx="194.42" cy="206.61" r="2.3"/><circle cx="194.46" cy="210.07" r="2.3"/><circle cx="195.16" cy="213.91" r="2.3"/><circle cx="195.77" cy="211.44" r="2.3"/><circle cx="196.14" cy="208.76" r="2.3"/><circle cx="196.47" cy="204.53" r="2.3"/><circle cx="196.60" cy="205.27" r="2.3"/><circle cx="197.56" cy="206.07" r="2.3"/><circle cx="198.16" cy="210.22" r="2.3"/><circle cx="198.04" cy="199.55" r="2.3"/><circle cx="198.50" cy="203.70" r="2.3"/><circle cx="198.57" cy="209.66" r="2.3"/><circle cx="199.86" cy="211.87" r="2.3"/><circle cx="200.00" cy="204.58" r="2.3"/><circle cx="200.51" cy="201.55" r="2.3"/><circle cx="200.55" cy="206.61" r="2.3"/><circle cx="200.55" cy="209.49" r="2.3"/><circle cx="201.09" cy="206.38" r="2.3"/><circle cx="201.58" cy="213.50" r="2.3"/><circle cx="202.72" cy="202.26" r="2.3"/><circle cx="202.91" cy="209.57" r="2.3"/><circle cx="203.25" cy="205.78" r="2.3"/><circle cx="203.35" cy="205.47" r="2.3"/><circle cx="203.42" cy="207.03" r="2.3"/><circle cx="204.99" cy="199.78" r="2.3"/><circle cx="205.10" cy="208.21" r="2.3"/><circle cx="205.80" cy="209.90" r="2.3"/><circle cx="206.72" cy="204.86" r="2.3"/><circle cx="206.58" cy="206.34" r="2.3"/><circle cx="206.74" cy="208.49" r="2.3"/><circle cx="207.21" cy="198.83" r="2.3"/><circle cx="207.28" cy="211.06" r="2.3"/><circle cx="207.58" cy="203.50" r="2.3"/><circle cx="209.02" cy="204.23" r="2.3"/><circle cx="209.76" cy="212.18" r="2.3"/><circle cx="211.19" cy="204.40" r="2.3"/><circle cx="211.72" cy="206.60" r="2.3"/><circle cx="212.30" cy="208.22" r="2.3"/><circle cx="212.08" cy="201.14" r="2.3"/><circle cx="212.77" cy="203.28" r="2.3"/><circle cx="213.26" cy="204.66" r="2.3"/><circle cx="213.31" cy="206.25" r="2.3"/><circle cx="214.18" cy="203.36" r="2.3"/><circle cx="214.62" cy="209.63" r="2.3"/><circle cx="215.08" cy="213.45" r="2.3"/><circle cx="214.77" cy="206.09" r="2.3"/><circle cx="215.83" cy="206.32" r="2.3"/><circle cx="215.91" cy="204.32" r="2.3"/><circle cx="217.25" cy="206.82" r="2.3"/><circle cx="218.38" cy="207.07" r="2.3"/><circle cx="220.06" cy="205.87" r="2.3"/><circle cx="219.89" cy="204.96" r="2.3"/><circle cx="220.69" cy="204.11" r="2.3"/><circle cx="221.42" cy="206.76" r="2.3"/><circle cx="221.56" cy="208.48" r="2.3"/><circle cx="221.55" cy="212.55" r="2.3"/><circle cx="221.86" cy="194.45" r="2.3"/><circle cx="222.71" cy="203.57" r="2.3"/><circle cx="224.51" cy="203.34" r="2.3"/><circle cx="224.45" cy="205.07" r="2.3"/><circle cx="224.45" cy="205.71" r="2.3"/><circle cx="225.72" cy="203.24" r="2.3"/><circle cx="227.82" cy="208.59" r="2.3"/><circle cx="228.37" cy="204.26" r="2.3"/><circle cx="229.35" cy="203.26" r="2.3"/><circle cx="229.89" cy="212.08" r="2.3"/><circle cx="230.32" cy="198.40" r="2.3"/><circle cx="230.68" cy="201.06" r="2.3"/><circle cx="231.50" cy="206.24" r="2.3"/><circle cx="233.19" cy="199.95" r="2.3"/><circle cx="235.09" cy="212.64" r="2.3"/><circle cx="237.49" cy="207.53" r="2.3"/><circle cx="238.00" cy="204.14" r="2.3"/><circle cx="238.40" cy="206.74" r="2.3"/><circle cx="238.87" cy="202.75" r="2.3"/><circle cx="243.24" cy="202.19" r="2.3"/><circle cx="244.79" cy="199.07" r="2.3"/><circle cx="246.26" cy="200.34" r="2.3"/><circle cx="247.65" cy="203.48" r="2.3"/><circle cx="248.42" cy="205.45" r="2.3"/><circle cx="249.25" cy="202.13" r="2.3"/><circle cx="252.39" cy="205.26" r="2.3"/><circle cx="253.03" cy="208.24" r="2.3"/><circle cx="254.04" cy="199.65" r="2.3"/><circle cx="256.54" cy="205.87" r="2.3"/><circle cx="257.10" cy="201.46" r="2.3"/><circle cx="259.63" cy="212.95" r="2.3"/></g></defs>
<g transform="translate(0,0)"><rect x="33" y="22.7" width="275.5" height="221.55" fill="#e8ffff"/><g stroke="#ffffff" stroke-width="1.2"><g stroke-dasharray="5.5 5.4" stroke-dashoffset="7.9"><line x1="52.41" y1="22.7" x2="52.41" y2="244.25"/><line x1="91.74" y1="22.7" x2="91.74" y2="244.25"/><line x1="131.07" y1="22.7" x2="131.07" y2="244.25"/><line x1="170.40" y1="22.7" x2="170.40" y2="244.25"/><line x1="209.73" y1="22.7" x2="209.73" y2="244.25"/><line x1="249.06" y1="22.7" x2="249.06" y2="244.25"/><line x1="288.39" y1="22.7" x2="288.39" y2="244.25"/></g><g stroke-dasharray="5.6 5.6" stroke-dashoffset="-0.2"><line x1="33" y1="225.90" x2="308.5" y2="225.90"/><line x1="33" y1="189.00" x2="308.5" y2="189.00"/><line x1="33" y1="152.10" x2="308.5" y2="152.10"/><line x1="33" y1="115.20" x2="308.5" y2="115.20"/><line x1="33" y1="78.30" x2="308.5" y2="78.30"/><line x1="33" y1="41.40" x2="308.5" y2="41.40"/></g></g><g stroke="#707070" stroke-width="1.05" stroke-dasharray="4.5 4.09" stroke-dashoffset="6.29"><line x1="137.30" y1="22.7" x2="137.30" y2="244.25"/><line x1="160.44" y1="22.7" x2="160.44" y2="244.25"/><line x1="180.35" y1="22.7" x2="180.35" y2="244.25"/><line x1="203.52" y1="22.7" x2="203.52" y2="244.25"/></g><g stroke-width="1" stroke-dasharray="4.5 4.09"><line x1="33" y1="204.98" x2="308.5" y2="204.98" stroke="#ec9a9a"/></g><use href="#ptsA"/><g stroke-width="1" stroke-dasharray="4.5 4.09"><line x1="33" y1="200.51" x2="308.5" y2="200.51" stroke="#e25555"/><line x1="33" y1="208.82" x2="308.5" y2="208.82" stroke="#e46a6a"/><line x1="33" y1="213.32" x2="308.5" y2="213.32" stroke="#e25a5a"/></g><use href="#ptsB"/><line x1="39.5" y1="232.4" x2="300.6" y2="181.9" stroke="#2020ff" stroke-width="1.45" stroke-linecap="round" stroke-dasharray="1.6 3.5" stroke-dashoffset="0.5"/><g stroke="#3a3a3a" stroke-width="1.1"><line x1="31" y1="22.7" x2="309.0" y2="22.7"/><line x1="31" y1="244.25" x2="309.0" y2="244.25"/><line x1="308.5" y1="22.2" x2="308.5" y2="246.6"/><line x1="33.1" y1="22.2" x2="33.1" y2="247" stroke="#4a4a4a" stroke-width="1.3"/></g><g stroke="#3a3a3a" stroke-width="1"><line x1="52.50" y1="244.25" x2="52.50" y2="248.75"/><line x1="52.50" y1="22.7" x2="52.50" y2="27.2"/><line x1="72.50" y1="244.25" x2="72.50" y2="246.75"/><line x1="72.50" y1="22.7" x2="72.50" y2="25.2"/><line x1="91.50" y1="244.25" x2="91.50" y2="248.75"/><line x1="91.50" y1="22.7" x2="91.50" y2="27.2"/><line x1="111.50" y1="244.25" x2="111.50" y2="246.75"/><line x1="111.50" y1="22.7" x2="111.50" y2="25.2"/><line x1="131.50" y1="244.25" x2="131.50" y2="248.75"/><line x1="131.50" y1="22.7" x2="131.50" y2="27.2"/><line x1="151.50" y1="244.25" x2="151.50" y2="246.75"/><line x1="151.50" y1="22.7" x2="151.50" y2="25.2"/><line x1="170.50" y1="244.25" x2="170.50" y2="248.75"/><line x1="170.50" y1="22.7" x2="170.50" y2="27.2"/><line x1="190.50" y1="244.25" x2="190.50" y2="246.75"/><line x1="190.50" y1="22.7" x2="190.50" y2="25.2"/><line x1="210.50" y1="244.25" x2="210.50" y2="248.75"/><line x1="210.50" y1="22.7" x2="210.50" y2="27.2"/><line x1="229.50" y1="244.25" x2="229.50" y2="246.75"/><line x1="229.50" y1="22.7" x2="229.50" y2="25.2"/><line x1="249.50" y1="244.25" x2="249.50" y2="248.75"/><line x1="249.50" y1="22.7" x2="249.50" y2="27.2"/><line x1="269.50" y1="244.25" x2="269.50" y2="246.75"/><line x1="269.50" y1="22.7" x2="269.50" y2="25.2"/><line x1="288.50" y1="244.25" x2="288.50" y2="248.75"/><line x1="288.50" y1="22.7" x2="288.50" y2="27.2"/><line x1="28.5" y1="225.50" x2="33" y2="225.50"/><line x1="304.0" y1="225.50" x2="308.5" y2="225.50"/><line x1="30.8" y1="207.50" x2="33" y2="207.50"/><line x1="306.3" y1="207.50" x2="308.5" y2="207.50"/><line x1="28.5" y1="189.50" x2="33" y2="189.50"/><line x1="304.0" y1="189.50" x2="308.5" y2="189.50"/><line x1="30.8" y1="170.50" x2="33" y2="170.50"/><line x1="306.3" y1="170.50" x2="308.5" y2="170.50"/><line x1="28.5" y1="152.50" x2="33" y2="152.50"/><line x1="304.0" y1="152.50" x2="308.5" y2="152.50"/><line x1="30.8" y1="133.50" x2="33" y2="133.50"/><line x1="306.3" y1="133.50" x2="308.5" y2="133.50"/><line x1="28.5" y1="115.50" x2="33" y2="115.50"/><line x1="304.0" y1="115.50" x2="308.5" y2="115.50"/><line x1="30.8" y1="96.50" x2="33" y2="96.50"/><line x1="306.3" y1="96.50" x2="308.5" y2="96.50"/><line x1="28.5" y1="78.50" x2="33" y2="78.50"/><line x1="304.0" y1="78.50" x2="308.5" y2="78.50"/><line x1="30.8" y1="59.50" x2="33" y2="59.50"/><line x1="306.3" y1="59.50" x2="308.5" y2="59.50"/><line x1="28.5" y1="41.50" x2="33" y2="41.50"/><line x1="304.0" y1="41.50" x2="308.5" y2="41.50"/></g><g font-size="10" fill="#111"><text x="52.81" y="259" text-anchor="middle">-3</text><text x="92.14" y="259" text-anchor="middle">-2</text><text x="131.47" y="259" text-anchor="middle">-1</text><text x="170.90" y="259" text-anchor="middle">0</text><text x="210.23" y="259" text-anchor="middle">1</text><text x="249.56" y="259" text-anchor="middle">2</text><text x="288.89" y="259" text-anchor="middle">3</text><text x="26" y="228.90" text-anchor="end">0.2</text><text x="26" y="192.00" text-anchor="end">0.3</text><text x="26" y="155.10" text-anchor="end">0.4</text><text x="26" y="118.20" text-anchor="end">0.5</text><text x="26" y="81.30" text-anchor="end">0.6</text><text x="26" y="44.40" text-anchor="end">0.7</text></g><text x="175" y="269" text-anchor="middle" font-size="12" fill="#222">Z(Probit)</text><text transform="translate(10.5,133.5) rotate(-90)" text-anchor="middle" font-size="12" fill="#222">C(Topsis)</text><text x="272.2" y="47.2" font-size="18.5" font-weight="bold" fill="#111">a)</text><g font-size="11.5" fill="#222"><text x="137.6" y="9">-0.2533</text><text x="183.2" y="9">0.842</text><text x="114.6" y="20.6">-0.8416</text><text x="160.7" y="20.6">0.253</text></g><g font-size="11.8" fill="#222"><text x="308.4" y="196.6">0.2688</text><text x="308.4" y="205.3">0.2567</text><text x="308.4" y="213.2">0.2463</text><text x="308.4" y="222.6">0.2341</text></g></g>
<g transform="translate(341,0)"><rect x="33" y="22.7" width="275.5" height="221.55" fill="#e8ffff"/><g stroke="#ffffff" stroke-width="1.2"><g stroke-dasharray="5.5 5.4" stroke-dashoffset="7.9"><line x1="52.41" y1="22.7" x2="52.41" y2="244.25"/><line x1="91.74" y1="22.7" x2="91.74" y2="244.25"/><line x1="131.07" y1="22.7" x2="131.07" y2="244.25"/><line x1="170.40" y1="22.7" x2="170.40" y2="244.25"/><line x1="209.73" y1="22.7" x2="209.73" y2="244.25"/><line x1="249.06" y1="22.7" x2="249.06" y2="244.25"/><line x1="288.39" y1="22.7" x2="288.39" y2="244.25"/></g><g stroke-dasharray="5.6 5.6" stroke-dashoffset="-0.2"><line x1="33" y1="225.90" x2="308.5" y2="225.90"/><line x1="33" y1="189.00" x2="308.5" y2="189.00"/><line x1="33" y1="152.10" x2="308.5" y2="152.10"/><line x1="33" y1="115.20" x2="308.5" y2="115.20"/><line x1="33" y1="78.30" x2="308.5" y2="78.30"/><line x1="33" y1="41.40" x2="308.5" y2="41.40"/></g></g><g stroke="#707070" stroke-width="1.05" stroke-dasharray="4.5 4.09" stroke-dashoffset="6.29"><line x1="153.46" y1="22.7" x2="153.46" y2="244.25"/><line x1="187.34" y1="22.7" x2="187.34" y2="244.25"/></g><g stroke="#eba46a" stroke-width="1" stroke-dasharray="4.5 4.09"><line x1="33" y1="203.61" x2="308.5" y2="203.61" stroke="#eba46a"/><line x1="33" y1="210.18" x2="308.5" y2="210.18" stroke="#eba46a"/></g><use href="#ptsA"/><use href="#ptsB"/><line x1="39.5" y1="232.4" x2="300.6" y2="181.9" stroke="#2020ff" stroke-width="1.45" stroke-linecap="round" stroke-dasharray="1.6 3.5" stroke-dashoffset="0.5"/><g stroke="#3a3a3a" stroke-width="1.1"><line x1="31" y1="22.7" x2="309.0" y2="22.7"/><line x1="31" y1="244.25" x2="309.0" y2="244.25"/><line x1="308.5" y1="22.2" x2="308.5" y2="246.6"/><line x1="33.1" y1="22.2" x2="33.1" y2="247" stroke="#4a4a4a" stroke-width="1.3"/></g><g stroke="#3a3a3a" stroke-width="1"><line x1="52.50" y1="244.25" x2="52.50" y2="248.75"/><line x1="52.50" y1="22.7" x2="52.50" y2="27.2"/><line x1="72.50" y1="244.25" x2="72.50" y2="246.75"/><line x1="72.50" y1="22.7" x2="72.50" y2="25.2"/><line x1="91.50" y1="244.25" x2="91.50" y2="248.75"/><line x1="91.50" y1="22.7" x2="91.50" y2="27.2"/><line x1="111.50" y1="244.25" x2="111.50" y2="246.75"/><line x1="111.50" y1="22.7" x2="111.50" y2="25.2"/><line x1="131.50" y1="244.25" x2="131.50" y2="248.75"/><line x1="131.50" y1="22.7" x2="131.50" y2="27.2"/><line x1="151.50" y1="244.25" x2="151.50" y2="246.75"/><line x1="151.50" y1="22.7" x2="151.50" y2="25.2"/><line x1="170.50" y1="244.25" x2="170.50" y2="248.75"/><line x1="170.50" y1="22.7" x2="170.50" y2="27.2"/><line x1="190.50" y1="244.25" x2="190.50" y2="246.75"/><line x1="190.50" y1="22.7" x2="190.50" y2="25.2"/><line x1="210.50" y1="244.25" x2="210.50" y2="248.75"/><line x1="210.50" y1="22.7" x2="210.50" y2="27.2"/><line x1="229.50" y1="244.25" x2="229.50" y2="246.75"/><line x1="229.50" y1="22.7" x2="229.50" y2="25.2"/><line x1="249.50" y1="244.25" x2="249.50" y2="248.75"/><line x1="249.50" y1="22.7" x2="249.50" y2="27.2"/><line x1="269.50" y1="244.25" x2="269.50" y2="246.75"/><line x1="269.50" y1="22.7" x2="269.50" y2="25.2"/><line x1="288.50" y1="244.25" x2="288.50" y2="248.75"/><line x1="288.50" y1="22.7" x2="288.50" y2="27.2"/><line x1="28.5" y1="225.50" x2="33" y2="225.50"/><line x1="304.0" y1="225.50" x2="308.5" y2="225.50"/><line x1="30.8" y1="207.50" x2="33" y2="207.50"/><line x1="306.3" y1="207.50" x2="308.5" y2="207.50"/><line x1="28.5" y1="189.50" x2="33" y2="189.50"/><line x1="304.0" y1="189.50" x2="308.5" y2="189.50"/><line x1="30.8" y1="170.50" x2="33" y2="170.50"/><line x1="306.3" y1="170.50" x2="308.5" y2="170.50"/><line x1="28.5" y1="152.50" x2="33" y2="152.50"/><line x1="304.0" y1="152.50" x2="308.5" y2="152.50"/><line x1="30.8" y1="133.50" x2="33" y2="133.50"/><line x1="306.3" y1="133.50" x2="308.5" y2="133.50"/><line x1="28.5" y1="115.50" x2="33" y2="115.50"/><line x1="304.0" y1="115.50" x2="308.5" y2="115.50"/><line x1="30.8" y1="96.50" x2="33" y2="96.50"/><line x1="306.3" y1="96.50" x2="308.5" y2="96.50"/><line x1="28.5" y1="78.50" x2="33" y2="78.50"/><line x1="304.0" y1="78.50" x2="308.5" y2="78.50"/><line x1="30.8" y1="59.50" x2="33" y2="59.50"/><line x1="306.3" y1="59.50" x2="308.5" y2="59.50"/><line x1="28.5" y1="41.50" x2="33" y2="41.50"/><line x1="304.0" y1="41.50" x2="308.5" y2="41.50"/></g><g font-size="10" fill="#111"><text x="52.81" y="259" text-anchor="middle">-3</text><text x="92.14" y="259" text-anchor="middle">-2</text><text x="131.47" y="259" text-anchor="middle">-1</text><text x="170.90" y="259" text-anchor="middle">0</text><text x="210.23" y="259" text-anchor="middle">1</text><text x="249.56" y="259" text-anchor="middle">2</text><text x="288.89" y="259" text-anchor="middle">3</text><text x="26" y="228.90" text-anchor="end">0.2</text><text x="26" y="192.00" text-anchor="end">0.3</text><text x="26" y="155.10" text-anchor="end">0.4</text><text x="26" y="118.20" text-anchor="end">0.5</text><text x="26" y="81.30" text-anchor="end">0.6</text><text x="26" y="44.40" text-anchor="end">0.7</text></g><text x="175" y="269" text-anchor="middle" font-size="12" fill="#222">Z(Probit)</text><text transform="translate(10.5,133.5) rotate(-90)" text-anchor="middle" font-size="12" fill="#222">C(Topsis)</text><text x="274.6" y="47.2" font-size="18.5" font-weight="bold" fill="#111">b)</text><g font-size="11.7" fill="#3a3a3a"><text x="124.9" y="21.3">−0. 4307</text><text x="174.2" y="21.3">0. 4307</text><text x="308.6" y="204.3">0. 2604</text><text x="308.6" y="214.5">0. 2426</text></g></g>
</svg>
</body></html>
